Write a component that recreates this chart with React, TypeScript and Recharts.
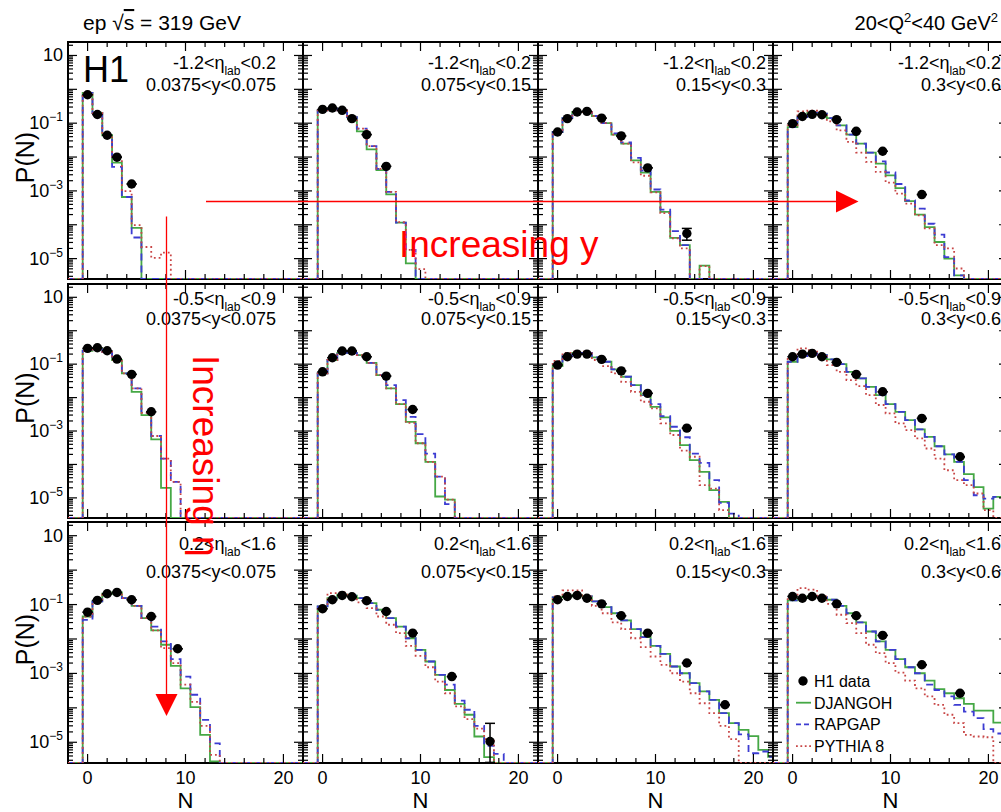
import React from 'react';
import { ComposedChart, Line, Scatter, XAxis, YAxis, ReferenceArea, ErrorBar, Legend } from 'recharts';

// bin labels
const Y_RANGES = ['0.0375<y<0.075', '0.075<y<0.15', '0.15<y<0.3', '0.3<y<0.6'];
const ETA_RANGES = [['-1.2', '0.2'], ['-0.5', '0.9'], ['0.2', '1.6']];

// H1 data points: N positions, then P(N) per eta row (one list per y bin)
const H1_N = [0, 1, 2, 3, 4.5, 6.5, 9.2, 13.2, 17.1];
const H1_ETA1 = [
  [0.69, 0.18, 0.044, 0.0099, 0.0016],
  [0.255, 0.28, 0.24, 0.136, 0.046, 0.0053],
  [0.055, 0.136, 0.214, 0.224, 0.141, 0.042, 0.0048, 5.5e-5],
  [0.097, 0.158, 0.182, 0.178, 0.127, 0.0575, 0.0148, 7.8e-4],
];
const H1_ETA2 = [
  [0.297, 0.31, 0.252, 0.142, 0.0495, 0.00376],
  [0.059, 0.156, 0.247, 0.247, 0.167, 0.044, 0.0044],
  [0.094, 0.167, 0.2, 0.2, 0.139, 0.063, 0.0134, 0.00122],
  [0.167, 0.2, 0.21, 0.167, 0.113, 0.0495, 0.0149, 0.00238, 1.7e-4],
];
const H1_ETA3 = [
  [0.06, 0.132, 0.206, 0.225, 0.138, 0.045, 0.0052],
  [0.0755, 0.138, 0.184, 0.169, 0.129, 0.063, 0.0148, 8.1e-4, 1.05e-5],
  [0.138, 0.172, 0.184, 0.153, 0.105, 0.0472, 0.0148, 0.002, 1.23e-4],
  [0.172, 0.153, 0.172, 0.153, 0.105, 0.0472, 0.0127, 0.00178, 2.65e-4],
];
// visible error bars: [row, col, point index, low, high]
const H1_ERRORS = [
  [0, 2, 7, 2.0e-5, 2.3e-5],
  [2, 1, 8, 7.9e-6, 2.5e-5],
];

// MC predictions, one value per integer N bin (0 = empty bin)
const DJ_ETA1 = [
  [0.78, 0.2, 0.044, 0.0068, 6.6e-4, 8.1e-5],
  [0.24, 0.27, 0.24, 0.152, 0.057, 0.0169, 0.0041, 7.9e-4, 1.16e-4, 7.2e-6],
  [0.055, 0.142, 0.214, 0.214, 0.163, 0.101, 0.0458, 0.0248, 0.008, 0.00347, 9.3e-4, 2.4e-4, 4.1e-5, 2.5e-5, 0, 6.2e-6],
  [0.077, 0.152, 0.204, 0.19, 0.142, 0.0865, 0.0458, 0.0248, 0.0135, 0.00638, 0.00288, 0.0012, 5.0e-4, 2.0e-4, 8.5e-5, 3.1e-5, 1.0e-5, 3.2e-6],
];
const RG_ETA1 = [
  [0.78, 0.2, 0.044, 0.0051, 6.6e-4, 4.2e-5],
  [0.24, 0.27, 0.24, 0.152, 0.069, 0.021, 0.0045, 9.3e-4, 1.16e-4, 1.8e-5],
  [0.055, 0.142, 0.214, 0.214, 0.163, 0.101, 0.05, 0.027, 0.0095, 0.004, 0.0011, 2.8e-4, 6.5e-5, 2.5e-5],
  [0.077, 0.152, 0.204, 0.19, 0.142, 0.0865, 0.0458, 0.0248, 0.0135, 0.0074, 0.0035, 0.0016, 5.2e-4, 3.0e-4, 1.07e-4, 5.1e-5, 1.1e-5, 3.2e-6],
];
const PY_ETA1 = [
  [0.78, 0.2, 0.044, 0.0089, 9.8e-4, 9.8e-5, 2.2e-5, 1.05e-5, 1.5e-5],
  [0.24, 0.27, 0.24, 0.152, 0.069, 0.021, 0.0045, 9.3e-4, 1.2e-4, 1.8e-5, 4.9e-6],
  [0.055, 0.142, 0.214, 0.214, 0.163, 0.101, 0.0458, 0.0248, 0.007, 0.0028, 9.0e-4, 2.2e-4, 4.0e-5, 2.0e-5, 0, 6.0e-6],
  [0.0865, 0.223, 0.233, 0.204, 0.113, 0.0614, 0.0279, 0.0135, 0.00716, 0.00363, 0.00176, 8.3e-4, 4.2e-4, 1.9e-4, 7.8e-5, 2.5e-5, 2.0e-5, 5.1e-6],
];
const DJ_ETA2 = [
  [0.252, 0.297, 0.235, 0.133, 0.053, 0.0149, 0.003, 5.6e-4, 2.0e-5],
  [0.053, 0.133, 0.219, 0.219, 0.187, 0.11, 0.0472, 0.0188, 0.0064, 0.00188, 4.3e-4, 1.2e-4, 1.1e-5, 8.9e-6],
  [0.0877, 0.175, 0.219, 0.219, 0.16, 0.118, 0.0698, 0.042, 0.0237, 0.0119, 0.0053, 0.00255, 0.00101, 3.8e-4, 1.35e-4, 6.0e-5, 1.7e-5, 7.6e-6],
  [0.118, 0.175, 0.21, 0.187, 0.139, 0.1, 0.059, 0.0376, 0.021, 0.0119, 0.0064, 0.00376, 0.00212, 0.00112, 6.7e-4, 3.5e-4, 2.0e-4, 1.2e-4, 5.1e-5, 2.1e-5, 4.8e-6, 1.07e-5],
];
const RG_ETA2 = [
  [0.252, 0.297, 0.235, 0.133, 0.053, 0.0188, 0.0035, 7.1e-4, 1.5e-4, 3.0e-5],
  [0.053, 0.133, 0.219, 0.219, 0.187, 0.11, 0.0472, 0.0237, 0.0084, 0.00266, 8.1e-4, 2.1e-4, 4.3e-5, 6.5e-6],
  [0.0877, 0.175, 0.219, 0.219, 0.16, 0.118, 0.0698, 0.042, 0.0237, 0.0119, 0.0064, 0.0028, 0.00134, 6.5e-4, 2.1e-4, 1.12e-4, 3.4e-5, 7.1e-6, 3.4e-6],
  [0.118, 0.175, 0.21, 0.187, 0.139, 0.1, 0.059, 0.0376, 0.021, 0.0119, 0.0064, 0.00376, 0.00212, 0.00112, 6.7e-4, 3.5e-4, 2.0e-4, 1.2e-4, 3.4e-5, 1.2e-5, 9.5e-6, 1.07e-5],
];
const PY_ETA2 = [
  [0.252, 0.297, 0.235, 0.133, 0.053, 0.0188, 0.0035, 7.1e-4, 1.5e-4, 3.0e-5],
  [0.053, 0.133, 0.219, 0.219, 0.187, 0.11, 0.0472, 0.0188, 0.0064, 0.00176, 4.3e-4, 1.2e-4, 4.3e-5, 8.9e-6],
  [0.126, 0.219, 0.235, 0.235, 0.133, 0.0877, 0.053, 0.0297, 0.0149, 0.0075, 0.00475, 0.0017, 7.6e-4, 2.6e-4, 1.7e-4, 2.4e-5, 1.9e-5, 4.3e-6],
  [0.167, 0.297, 0.264, 0.187, 0.094, 0.059, 0.0334, 0.0221, 0.0119, 0.006, 0.00337, 0.0017, 0.00106, 6.0e-4, 3.0e-4, 1.5e-4, 6.7e-5, 3.4e-5, 2.4e-5, 1.35e-5, 4.3e-6],
];
const DJ_ETA3 = [
  [0.045, 0.123, 0.206, 0.225, 0.153, 0.092, 0.0403, 0.0177, 0.0068, 0.00166, 3.7e-4, 1.05e-4, 1.64e-5, 2.8e-6],
  [0.088, 0.153, 0.193, 0.18, 0.153, 0.11, 0.0706, 0.0403, 0.023, 0.0105, 0.00485, 0.00222, 9.1e-4, 3.3e-4, 1.3e-4, 6.3e-5, 1.47e-5, 3.7e-6],
  [0.161, 0.172, 0.187, 0.172, 0.123, 0.084, 0.056, 0.0345, 0.0193, 0.0113, 0.0063, 0.0037, 0.00159, 0.00101, 5.2e-4, 3.0e-4, 1.7e-4, 7.0e-5, 3.6e-5, 2.3e-5, 1.5e-5, 6.0e-6, 3.8e-6],
  [0.132, 0.153, 0.172, 0.164, 0.138, 0.092, 0.056, 0.0302, 0.0165, 0.0085, 0.00485, 0.00259, 0.00151, 0.00101, 6.2e-4, 3.5e-4, 2.65e-4, 1.9e-4, 1.3e-4, 8.3e-5, 8.3e-5, 3.7e-5],
];
const RG_ETA3 = [
  [0.036, 0.123, 0.206, 0.225, 0.153, 0.092, 0.0403, 0.023, 0.0085, 0.00259, 8.1e-4, 2.4e-4, 4.5e-5, 9.3e-6],
  [0.088, 0.153, 0.193, 0.18, 0.153, 0.11, 0.0706, 0.0403, 0.023, 0.0105, 0.00485, 0.00222, 9.1e-4, 4.7e-4, 1.63e-4, 8.8e-5, 3.0e-5, 7.9e-6, 4.6e-6],
  [0.161, 0.172, 0.187, 0.172, 0.123, 0.084, 0.056, 0.0345, 0.0193, 0.0113, 0.0063, 0.0037, 0.00159, 0.00101, 5.2e-4, 3.0e-4, 1.7e-4, 7.0e-5, 3.6e-5, 1.7e-5, 4.8e-6, 5.4e-6, 3.8e-6],
  [0.132, 0.153, 0.172, 0.164, 0.138, 0.092, 0.056, 0.0302, 0.0165, 0.0085, 0.00485, 0.00259, 0.00151, 0.00101, 4.7e-4, 3.3e-4, 2.14e-4, 1.22e-4, 7.8e-5, 5.0e-5, 2.4e-5, 1.8e-5],
];
const PY_ETA3 = [
  [0.045, 0.123, 0.206, 0.225, 0.153, 0.092, 0.0403, 0.0177, 0.0054, 0.002, 4.7e-4, 1.5e-4, 3.0e-5, 4.3e-6],
  [0.088, 0.214, 0.225, 0.172, 0.115, 0.0785, 0.045, 0.0259, 0.0148, 0.0063, 0.00325, 0.00151, 5.8e-4, 2.65e-4, 1.1e-4, 4.7e-5, 2.5e-5, 1.23e-5],
  [0.172, 0.257, 0.257, 0.172, 0.092, 0.056, 0.0302, 0.0193, 0.0105, 0.0058, 0.0031, 0.00178, 0.00101, 5.8e-4, 2.65e-4, 1.36e-4, 7.0e-5, 3.0e-5, 1.23e-5],
  [0.172, 0.3, 0.27, 0.172, 0.105, 0.0505, 0.0288, 0.0148, 0.0068, 0.00387, 0.002, 0.00106, 6.2e-4, 3.7e-4, 2.14e-4, 1.22e-4, 6.3e-5, 3.6e-5, 1.64e-5, 1.47e-5, 1.4e-5],
];

const H1 = [H1_ETA1, H1_ETA2, H1_ETA3];
const DJ = [DJ_ETA1, DJ_ETA2, DJ_ETA3];
const RG = [RG_ETA1, RG_ETA2, RG_ETA3];
const PY = [PY_ETA1, PY_ETA2, PY_ETA3];

// axes
const X_DOMAIN = [-2, 22];
const Y_DOMAIN = [2.5e-6, 25];
const X_TICKS = [0, 2, 4, 6, 8, 10, 12, 14, 16, 18, 20];
const X_MAJOR = [0, 10, 20];
const Y_MAJOR = [1e-5, 1e-4, 1e-3, 1e-2, 0.1, 1, 10];
const Y_LABELS = [
  { v: 10, exp: '' },
  { v: 0.1, exp: '\u22121' },
  { v: 1e-3, exp: '\u22123' },
  { v: 1e-5, exp: '\u22125' },
];
const Y_TICKS: number[] = [];
[-6, -5, -4, -3, -2, -1, 0, 1].forEach((k) => {
  [1, 2, 3, 4, 5, 6, 7, 8, 9].forEach((m) => {
    const v = m === 1 ? Y_MAJOR.find((d) => Math.abs(Math.log10(d) - k) < 1e-9) ?? m * 10 ** k : m * 10 ** k;
    if (v >= Y_DOMAIN[0] && v <= Y_DOMAIN[1]) Y_TICKS.push(v);
  });
});

const LEGEND_ITEMS = [
  { name: 'H1 data', kind: 'dot', color: '#000' },
  { name: 'DJANGOH', kind: 'solid', color: '#45a845' },
  { name: 'RAPGAP', kind: 'dash', color: '#3c3cd2' },
  { name: 'PYTHIA 8', kind: 'dot-line', color: '#c84646' },
];

// layout
const COL_X = [68, 303, 538, 773];
const ROW_Y = [42, 284, 522];
const ROW_H = [237, 234, 241];
const PW = 235;
const AX = 1; // axis band size (must be > 0 for ticks to render)
const M = { top: 10, right: 10, bottom: 52, left: 72 };
const FONT = '"Liberation Sans", Arial, Helvetica, sans-serif';

const steps = (bins: number[]) => {
  const floor = Y_DOMAIN[0];
  const pts = [{ x: X_DOMAIN[0], y: floor }];
  bins.forEach((v, i) => pts.push({ x: i - 0.5, y: v > 0 ? v : floor }));
  pts.push({ x: bins.length - 0.5, y: floor });
  pts.push({ x: X_DOMAIN[1], y: floor });
  return pts;
};

const yTick = (col: number) => (props: any) => {
  const { x, y, payload } = props;
  const v = payload.value;
  const major = Y_MAJOR.includes(v);
  const len = major ? 9 : 5;
  const lab = col === 0 ? Y_LABELS.find((l) => l.v === v) : undefined;
  return (
    <g>
      <line x1={x} x2={x + len} y1={y} y2={y} stroke="#000" strokeWidth={1.2} />
      <line x1={x + PW} x2={x + PW - len} y1={y} y2={y} stroke="#000" strokeWidth={1.2} />
      {lab && (
        <text x={x - 5} y={y + 6} textAnchor="end" fontSize={18} fontFamily={FONT} fill="#000">
          10
          {lab.exp && (
            <tspan dy={-8} fontSize={12}>
              {lab.exp}
            </tspan>
          )}
        </text>
      )}
    </g>
  );
};

const xTick = (row: number, ph: number) => (props: any) => {
  const { x, y, payload } = props;
  const v = payload.value;
  const major = X_MAJOR.includes(v);
  const len = major ? 9 : 5;
  return (
    <g>
      <line x1={x} x2={x} y1={y} y2={y - len} stroke="#000" strokeWidth={1.2} />
      <line x1={x} x2={x} y1={y - ph} y2={y - ph + len} stroke="#000" strokeWidth={1.2} />
      {row === 2 && major && (
        <text x={x} y={y + 21} textAnchor="middle" fontSize={18} fontFamily={FONT} fill="#000">
          {v}
        </text>
      )}
    </g>
  );
};

const H1Dot = (p: any) => <circle cx={p.cx} cy={p.cy} r={4.7} fill="#000" />;

const LegendBox = () => (
  <svg width={130} height={90} style={{ overflow: 'visible' }}>
    {LEGEND_ITEMS.map((it, i) => {
      const cy = 11 + i * 21.7;
      return (
        <g key={it.name}>
          {it.kind === 'dot' && <circle cx={7} cy={cy} r={4.7} fill={it.color} />}
          {it.kind === 'solid' && <line x1={0} x2={15} y1={cy} y2={cy} stroke={it.color} strokeWidth={1.8} />}
          {it.kind === 'dash' && (
            <line x1={0} x2={15} y1={cy} y2={cy} stroke={it.color} strokeWidth={1.8} strokeDasharray="5 3" />
          )}
          {it.kind === 'dot-line' && (
            <line x1={0} x2={15} y1={cy} y2={cy} stroke={it.color} strokeWidth={1.8} strokeDasharray="1.8 2.6" />
          )}
          <text x={18} y={cy + 6} fontSize={16} fontFamily={FONT} fill="#000">
            {it.name}
          </text>
        </g>
      );
    })}
  </svg>
);

function Panel({ r, c }: { r: number; c: number }) {
  const ph = ROW_H[r];
  const pts = H1[r][c].map((v, i) => {
    const e = H1_ERRORS.find((d) => d[0] === r && d[1] === c && d[2] === i);
    return { x: H1_N[i], y: v, err: e ? [e[3], e[4]] : [0, 0] };
  });
  return (
    <div style={{ position: 'absolute', left: COL_X[c] - M.left - AX, top: ROW_Y[r] - M.top }}>
      <ComposedChart width={M.left + AX + PW + M.right} height={M.top + ph + AX + M.bottom} margin={M}>
        <XAxis
          type="number"
          dataKey="x"
          domain={X_DOMAIN}
          allowDataOverflow
          ticks={X_TICKS}
          interval={0}
          tick={xTick(r, ph)}
          tickSize={0}
          tickMargin={0}
          tickLine={false}
          axisLine={false}
          height={AX}
        />
        <YAxis
          type="number"
          dataKey="y"
          scale="log"
          domain={Y_DOMAIN}
          allowDataOverflow
          ticks={Y_TICKS}
          interval={0}
          tick={yTick(c)}
          tickSize={0}
          tickMargin={0}
          tickLine={false}
          axisLine={false}
          width={AX}
        />
        <ReferenceArea
          x1={X_DOMAIN[0]}
          x2={X_DOMAIN[1]}
          y1={Y_DOMAIN[0]}
          y2={Y_DOMAIN[1]}
          fill="none"
          stroke="#000"
          strokeWidth={2}
          ifOverflow="visible"
        />
        <Line data={steps(DJ[r][c])} dataKey="y" type="stepAfter" stroke="#45a845" strokeWidth={1.8} dot={false} isAnimationActive={false} />
        <Line data={steps(RG[r][c])} dataKey="y" type="stepAfter" stroke="#3c3cd2" strokeWidth={1.8} strokeDasharray="7 5" dot={false} isAnimationActive={false} />
        <Line data={steps(PY[r][c])} dataKey="y" type="stepAfter" stroke="#c84646" strokeWidth={1.8} strokeDasharray="1.8 3" dot={false} isAnimationActive={false} />
        <Scatter data={pts} dataKey="y" fill="#000" shape={H1Dot} isAnimationActive={false}>
          <ErrorBar dataKey="err" direction="y" width={5} stroke="#000" strokeWidth={1.5} />
        </Scatter>
        {r === 2 && c === 3 && (
          <Legend
            layout="vertical"
            align="center"
            verticalAlign="middle"
            content={() => <LegendBox />}
            wrapperStyle={{ left: 96, top: 158, width: 130, height: 90 }}
          />
        )}
      </ComposedChart>
    </div>
  );
}

function Overlay() {
  return (
    <svg
      width={1001}
      height={812}
      style={{ position: 'absolute', left: 0, top: 0, pointerEvents: 'none' }}
      fontFamily={FONT}
    >
      <text x={83} y={30} fontSize={21} fill="#000">
        ep <tspan>{'\u221A'}</tspan>
        <tspan style={{ textDecoration: 'overline' }}>s</tspan> = 319 GeV
      </text>
      <text x={998} y={30} fontSize={20} fill="#000" textAnchor="end">
        20&lt;Q<tspan dy={-8} fontSize={13}>2</tspan>
        <tspan dy={8}>&lt;40 GeV</tspan>
        <tspan dy={-8} fontSize={13}>2</tspan>
      </text>
      <text x={83} y={82} fontSize={36} fill="#000">
        H1
      </text>
      {ROW_Y.map((ry, r) => {
        const l1 = [26.5, 21, 28][r];
        const l2 = [49, 41, 56][r];
        return COL_X.map((cx, c) => {
          const xr = cx + PW - (c === 0 ? 27 : 7);
          return (
            <g key={`${r}-${c}`}>
              <text x={xr} y={ry + l1} fontSize={18} textAnchor="end" fill="#000">
                {ETA_RANGES[r][0]}&lt;η<tspan dy={6} fontSize={12}>lab</tspan>
                <tspan dy={-6}>&lt;{ETA_RANGES[r][1]}</tspan>
              </text>
              <text x={xr} y={ry + l2} fontSize={18} textAnchor="end" fill="#000">
                {Y_RANGES[c]}
              </text>
            </g>
          );
        });
      })}
      {ROW_Y.map((ry, r) => (
        <text
          key={`pn${r}`}
          transform={`translate(34, ${ry + ROW_H[r] / 2 - 3}) rotate(-90)`}
          textAnchor="middle"
          fontSize={25}
          fill="#000"
        >
          P(N)
        </text>
      ))}
      {COL_X.map((cx, c) => (
        <text key={`n${c}`} x={cx + PW / 2} y={808} textAnchor="middle" fontSize={22} fill="#000">
          N
        </text>
      ))}
      {/* arrows */}
      <line x1={206} x2={838} y1={201.5} y2={201.5} stroke="#ff0000" strokeWidth={1.6} />
      <polygon points="836,190.5 858.5,201.5 836,212.5" fill="#ff0000" />
      <line x1={166.5} x2={166.5} y1={216.5} y2={696} stroke="#ff0000" strokeWidth={1.3} />
      <polygon points="155.5,694 177.5,694 166.5,716" fill="#ff0000" />
      <text x={399} y={257} fontSize={37} fill="#ff0000">
        Increasing y
      </text>
      <text transform="translate(193, 355) rotate(90)" fontSize={37} fill="#ff0000">
        Increasing η
      </text>
    </svg>
  );
}

export default function App() {
  return (
    <div
      style={{
        position: 'absolute',
        left: 0,
        top: 0,
        width: 1001,
        height: 812,
        overflow: 'hidden',
        background: '#fff',
      }}
    >
      {ROW_Y.map((_, r) => COL_X.map((__, c) => <Panel key={`${r}-${c}`} r={r} c={c} />))}
      <Overlay />
    </div>
  );
}
